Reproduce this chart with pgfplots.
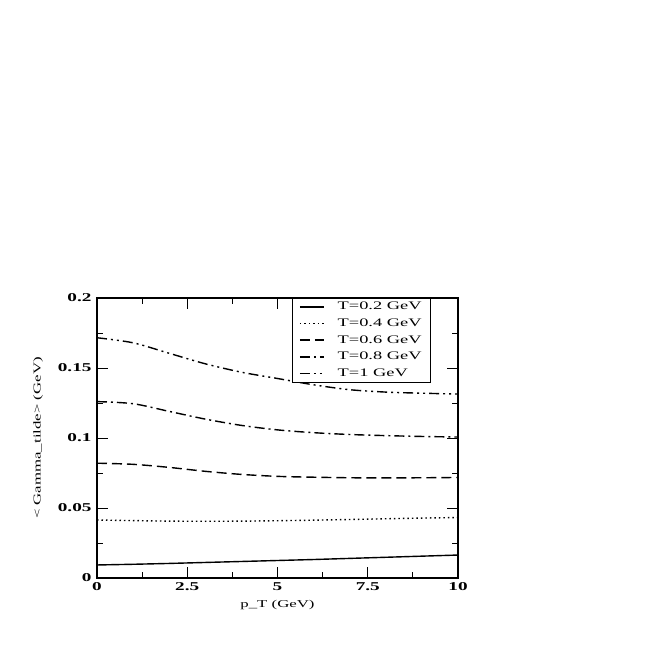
\documentclass[border=0pt]{standalone}
\usepackage{fontspec}
\setmainfont[FakeStretch=1.6]{Liberation Serif}
\usepackage{pgfplots}
\pgfplotsset{compat=1.18}
\begin{document}
\begin{tikzpicture}
\path[use as bounding box] (-97pt,-76pt) rectangle (557pt,578pt);
\begin{axis}[
  at={(0pt,0pt)}, anchor=south west,
  scale only axis, width=361pt, height=280pt,
  xmin=0, xmax=10, ymin=0, ymax=0.2,
  xtick={0,2.5,5,7.5,10}, ytick={0,0.05,0.1,0.15,0.2},
  minor x tick num=1, minor y tick num=1,
  tick align=inside, tick pos=both,
  major tick length=11pt, minor tick length=6pt,
  every tick/.style={black, line width=0.8pt},
  axis line style={line width=1.6pt},
  /pgf/number format/assume math mode=true,
  xticklabels={0,2.5,5,7.5,10},
  yticklabels={0,0.05,0.1,0.15,0.2},
  ticklabel style={font=\fontsize{12}{14}\selectfont\bfseries},
  xticklabel style={yshift=-1pt},
  yticklabel style={xshift=-2pt},
  xlabel={p\_T (GeV)},
  ylabel={< Gamma\_tilde> (GeV)},
  label style={font=\fontsize{10.5}{13}\selectfont},
  xlabel style={at={(axis description cs:0.5,0)}, anchor=center, yshift=-27pt},
  ylabel style={at={(axis description cs:0,0.5)}, anchor=center, yshift=59pt},
  legend cell align=left,
  legend image code/.code={\draw[#1] (0pt,0pt) -- (24pt,0pt);},
  legend style={at={(rel axis cs:0.925,1)}, anchor=north east, draw=black, line width=0.6pt,
    font=\fontsize{11.5}{14}\selectfont, row sep=3.5pt, column sep=11pt,
    inner xsep=7pt, inner ysep=2pt,
    nodes={inner sep=2pt}},
]
\addplot[black, line width=1.4pt] coordinates {
(0,0.0093) (1,0.0098) (2,0.0104) (3,0.0111) (4,0.0118) (5,0.0125) (6,0.0132) (7,0.0140) (8,0.0148) (9,0.0156) (10,0.0164)};
\addlegendentry{T=0.2 GeV}
\addplot[black, line width=1.4pt, dash pattern=on 1.5pt off 3pt] coordinates {
(0,0.0414) (1,0.0410) (2,0.0406) (3,0.0405) (4,0.0406) (5,0.0409) (6,0.0413) (7,0.0418) (8,0.0423) (9,0.0428) (10,0.0432)};
\addlegendentry{T=0.4 GeV}
\addplot[black, line width=1.4pt, dash pattern=on 10pt off 5pt, smooth] coordinates {
(0,0.0820) (1,0.0812) (2,0.0790) (3,0.0762) (4,0.0740) (5,0.0726) (6,0.0720) (7,0.0716) (8,0.0715) (9,0.0716) (10,0.0718)};
\addlegendentry{T=0.6 GeV}
\addplot[black, line width=1.4pt, dash pattern=on 10pt off 4pt on 2pt off 4pt, smooth] coordinates {
(0,0.1260) (1,0.1245) (2,0.1190) (3,0.1135) (4,0.1090) (5,0.1058) (6,0.1038) (7,0.1025) (8,0.1017) (9,0.1011) (10,0.1007)};
\addlegendentry{T=0.8 GeV}
\addplot[black, line width=1.4pt, dash pattern=on 10pt off 4pt on 2pt off 4pt on 2pt off 4pt, smooth] coordinates {
(0,0.1716) (1,0.1680) (2,0.1605) (3,0.1530) (4,0.1470) (5,0.1425) (6,0.1380) (7,0.1345) (8,0.1328) (9,0.1320) (10,0.1314)};
\addlegendentry{T=1 GeV}
\end{axis}
\end{tikzpicture}
\end{document}
